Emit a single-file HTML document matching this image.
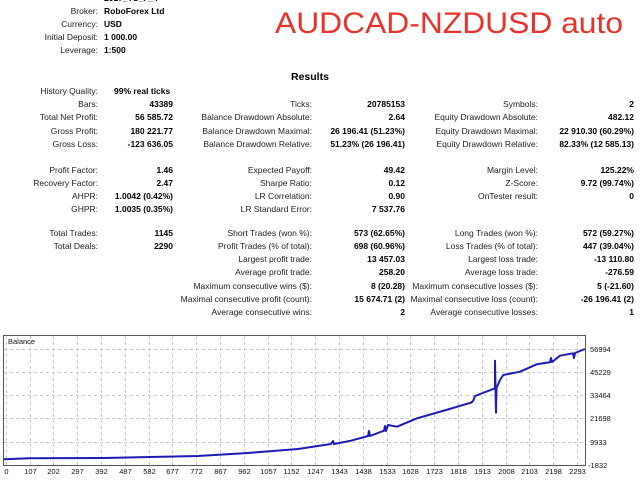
<!DOCTYPE html>
<html><head><meta charset="utf-8"><style>
html,body{margin:0;padding:0;background:#fff;width:640px;height:480px;overflow:hidden}
svg{display:block}
.l{font-family:"Liberation Sans",sans-serif;font-size:8.5px;fill:#222;text-anchor:end}
.v{font-family:"Liberation Sans",sans-serif;font-size:8.5px;fill:#000;font-weight:bold}
.r{text-anchor:end}
.ax{font-family:"Liberation Sans",sans-serif;font-size:7.5px;fill:#111}
</style></head><body>
<svg width="640" height="480" viewBox="0 0 640 480" xmlns="http://www.w3.org/2000/svg">
<text x="275" y="33" font-family="Liberation Sans,sans-serif" font-size="30" fill="#e8312a" textLength="348" lengthAdjust="spacingAndGlyphs">AUDCAD-NZDUSD auto</text>
<text x="104" y="1" class="v" fill="#888">2017_TS_F_4</text>
<g>
<text x="98" y="14" class="l">Broker:</text><text x="104" y="14" class="v">RoboForex Ltd</text>
<text x="98" y="27" class="l">Currency:</text><text x="104" y="27" class="v">USD</text>
<text x="98" y="40" class="l">Initial Deposit:</text><text x="104" y="40" class="v">1 000.00</text>
<text x="98" y="53" class="l">Leverage:</text><text x="104" y="53" class="v">1:500</text>
</g>
<text x="291" y="80" font-family="Liberation Sans,sans-serif" font-size="10.5" font-weight="bold">Results</text>
<g>
<text x="98" y="94" class="l">History Quality:</text><text x="114" y="94" class="v">99% real ticks</text>
<text x="98" y="107" class="l">Bars:</text><text x="173" y="107" class="v r">43389</text>
<text x="98" y="120" class="l">Total Net Profit:</text><text x="173" y="120" class="v r">56 585.72</text>
<text x="98" y="134" class="l">Gross Profit:</text><text x="173" y="134" class="v r">180 221.77</text>
<text x="98" y="147" class="l">Gross Loss:</text><text x="173" y="147" class="v r">-123 636.05</text>

<text x="312" y="107" class="l">Ticks:</text><text x="405" y="107" class="v r">20785153</text>
<text x="312" y="120" class="l">Balance Drawdown Absolute:</text><text x="405" y="120" class="v r">2.64</text>
<text x="312" y="134" class="l">Balance Drawdown Maximal:</text><text x="405" y="134" class="v r">26 196.41 (51.23%)</text>
<text x="312" y="147" class="l">Balance Drawdown Relative:</text><text x="405" y="147" class="v r">51.23% (26 196.41)</text>

<text x="538" y="107" class="l">Symbols:</text><text x="634" y="107" class="v r">2</text>
<text x="538" y="120" class="l">Equity Drawdown Absolute:</text><text x="634" y="120" class="v r">482.12</text>
<text x="538" y="134" class="l">Equity Drawdown Maximal:</text><text x="634" y="134" class="v r">22 910.30 (60.29%)</text>
<text x="538" y="147" class="l">Equity Drawdown Relative:</text><text x="634" y="147" class="v r">82.33% (12 585.13)</text>
</g>
<g>
<text x="98" y="173" class="l">Profit Factor:</text><text x="173" y="173" class="v r">1.46</text>
<text x="98" y="186" class="l">Recovery Factor:</text><text x="173" y="186" class="v r">2.47</text>
<text x="98" y="199" class="l">AHPR:</text><text x="173" y="199" class="v r">1.0042 (0.42%)</text>
<text x="98" y="212" class="l">GHPR:</text><text x="173" y="212" class="v r">1.0035 (0.35%)</text>

<text x="312" y="173" class="l">Expected Payoff:</text><text x="405" y="173" class="v r">49.42</text>
<text x="312" y="186" class="l">Sharpe Ratio:</text><text x="405" y="186" class="v r">0.12</text>
<text x="312" y="199" class="l">LR Correlation:</text><text x="405" y="199" class="v r">0.90</text>
<text x="312" y="212" class="l">LR Standard Error:</text><text x="405" y="212" class="v r">7 537.76</text>

<text x="538" y="173" class="l">Margin Level:</text><text x="634" y="173" class="v r">125.22%</text>
<text x="538" y="186" class="l">Z-Score:</text><text x="634" y="186" class="v r">9.72 (99.74%)</text>
<text x="538" y="199" class="l">OnTester result:</text><text x="634" y="199" class="v r">0</text>
</g>
<g>
<text x="98" y="236" class="l">Total Trades:</text><text x="173" y="236" class="v r">1145</text>
<text x="98" y="249" class="l">Total Deals:</text><text x="173" y="249" class="v r">2290</text>

<text x="312" y="236" class="l">Short Trades (won %):</text><text x="405" y="236" class="v r">573 (62.65%)</text>
<text x="312" y="249" class="l">Profit Trades (% of total):</text><text x="405" y="249" class="v r">698 (60.96%)</text>
<text x="312" y="262" class="l">Largest profit trade:</text><text x="405" y="262" class="v r">13 457.03</text>
<text x="312" y="275" class="l">Average profit trade:</text><text x="405" y="275" class="v r">258.20</text>
<text x="312" y="289" class="l">Maximum consecutive wins ($):</text><text x="405" y="289" class="v r">8 (20.28)</text>
<text x="312" y="302" class="l">Maximal consecutive profit (count):</text><text x="405" y="302" class="v r">15 674.71 (2)</text>
<text x="312" y="315" class="l">Average consecutive wins:</text><text x="405" y="315" class="v r">2</text>

<text x="538" y="236" class="l">Long Trades (won %):</text><text x="634" y="236" class="v r">572 (59.27%)</text>
<text x="538" y="249" class="l">Loss Trades (% of total):</text><text x="634" y="249" class="v r">447 (39.04%)</text>
<text x="538" y="262" class="l">Largest loss trade:</text><text x="634" y="262" class="v r">-13 110.80</text>
<text x="538" y="275" class="l">Average loss trade:</text><text x="634" y="275" class="v r">-276.59</text>
<text x="538" y="289" class="l">Maximum consecutive losses ($):</text><text x="634" y="289" class="v r">5 (-21.60)</text>
<text x="538" y="302" class="l">Maximal consecutive loss (count):</text><text x="634" y="302" class="v r">-26 196.41 (2)</text>
<text x="538" y="315" class="l">Average consecutive losses:</text><text x="634" y="315" class="v r">1</text>
</g>
<!-- chart -->
<g stroke="#c8c8c8" stroke-width="1" stroke-dasharray="3,3" shape-rendering="crispEdges">
<path d="M4 349.5H585M4 372.5H585M4 395.5H585M4 418.5H585M4 442.5H585"/>
<path d="M6.5 336V465M30.5 336V465M53.5 336V465M77.5 336V465M101.5 336V465M125.5 336V465M149.5 336V465M172.5 336V465M196.5 336V465M220.5 336V465M244.5 336V465M268.5 336V465M291.5 336V465M315.5 336V465M339.5 336V465M363.5 336V465M387.5 336V465M410.5 336V465M434.5 336V465M458.5 336V465M482.5 336V465M506.5 336V465M529.5 336V465M553.5 336V465M577.5 336V465"/>
</g>
<rect x="3.5" y="335.5" width="582" height="130" fill="none" stroke="#555" stroke-width="1"/>
<text x="8" y="344" class="ax">Balance</text>
<polyline fill="none" stroke="#1c1cb4" stroke-width="2" stroke-linejoin="round" points="4,459.3 29,458.3 103,458 150,457 198,456 248,453 298,449 331,444 333,441 334,444 351,440.7 368,436 369,431 370,436 384,430.7 385,426 386,431 388,425 397,426.7 417,418.3 446,410 471,402.7 473,401 475,396 495,388.3 495,360.7 495.5,388 496,412.7 496.5,388 500,380 503.3,375 520,371.7 536.7,364.3 550,362.3 551,358 552,362 560,355.7 573,353.3 574,358 575,353 580,351 585,349"/>
<g class="ax">
<text x="590" y="352">56994</text>
<text x="590" y="375">45229</text>
<text x="590" y="398">33464</text>
<text x="590" y="421">21698</text>
<text x="590" y="445">9933</text>
<text x="588" y="468">-1832</text>
</g>
<g class="ax" text-anchor="middle">
<text x="6.5" y="474">0</text><text x="30.5" y="474">107</text><text x="53.5" y="474">202</text><text x="77.5" y="474">297</text><text x="101.5" y="474">392</text><text x="125.5" y="474">487</text><text x="149.5" y="474">582</text><text x="172.5" y="474">677</text><text x="196.5" y="474">772</text><text x="220.5" y="474">867</text><text x="244.5" y="474">962</text><text x="268.5" y="474">1057</text><text x="291.5" y="474">1152</text><text x="315.5" y="474">1247</text><text x="339.5" y="474">1343</text><text x="363.5" y="474">1438</text><text x="387.5" y="474">1533</text><text x="410.5" y="474">1628</text><text x="434.5" y="474">1723</text><text x="458.5" y="474">1818</text><text x="482.5" y="474">1913</text><text x="506.5" y="474">2008</text><text x="529.5" y="474">2103</text><text x="553.5" y="474">2198</text><text x="577.5" y="474">2293</text>
</g>
</svg>
</body></html>
